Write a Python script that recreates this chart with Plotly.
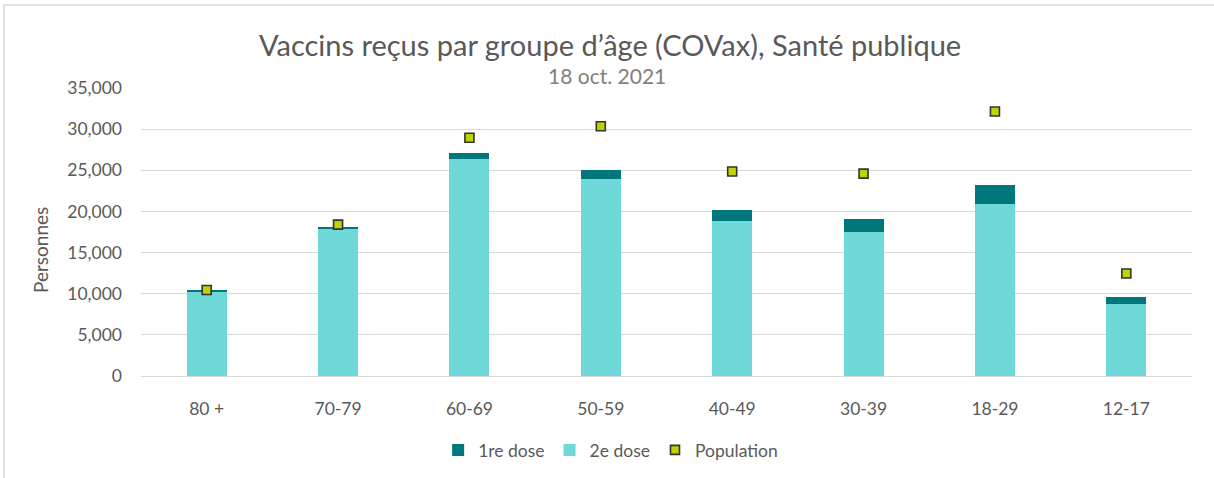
import plotly.graph_objects as go

categories = ["80 +", "70-79", "60-69", "50-59", "40-49", "30-39", "18-29", "12-17"]
dose2 = [10200, 17850, 26400, 23950, 18850, 17500, 20900, 8750]
dose1 = [250, 300, 700, 1050, 1350, 1550, 2300, 900]
population = [10450, 18400, 28950, 30350, 24850, 24600, 32150, 12450]

FONT = "Lato, 'Open Sans', sans-serif"
GREY = "#595959"

W, H = 1214, 478
L, R, T, B = 141, 22, 88, 102
pw, ph = W - L - R, H - T - B

def px(x):
    return (x - L) / pw

def py(y):
    return (H - B - y) / ph

fig = go.Figure()
fig.add_trace(go.Bar(x=categories, y=dose2, name="2e dose", marker_color="#6FD9DA",
                     marker_line_width=0, width=0.305, legendrank=2))
fig.add_trace(go.Bar(x=categories, y=dose1, name="1re dose", marker_color="#00777A",
                     marker_line_width=0, width=0.305, legendrank=1))
fig.add_trace(go.Scatter(x=categories, y=population, name="Population", mode="markers",
                         marker=dict(symbol="square", size=9, color="#BFD300",
                                     line=dict(color="#333333", width=1.6)),
                         legendrank=3))

fig.update_layout(
    width=W, height=H,
    margin=dict(l=L, r=R, t=T, b=B),
    barmode="stack",
    plot_bgcolor="white", paper_bgcolor="white",
    font=dict(family=FONT, color=GREY, size=17),
    showlegend=True,
    legend=dict(orientation="h", xref="container", x=0.503, xanchor="center",
                yref="container", y=1 - 450 / H, yanchor="middle", traceorder="normal",
                font=dict(size=17.5, color=GREY), itemwidth=30, tracegroupgap=0),
    annotations=[
        dict(text="Vaccins reçus par groupe d’âge (COVax), Santé publique", x=px(610), y=py(44),
             xref="paper", yref="paper", showarrow=False, xanchor="center", yanchor="middle",
             font=dict(size=29, color=GREY, family=FONT)),
        dict(text="18 oct. 2021", x=px(607), y=py(75),
             xref="paper", yref="paper", showarrow=False, xanchor="center", yanchor="middle",
             font=dict(size=21, color="#7f7f7f", family=FONT)),
        dict(text="Personnes", x=px(40), y=py(250), textangle=-90,
             xref="paper", yref="paper", showarrow=False, xanchor="center", yanchor="middle",
             font=dict(size=19, color=GREY, family=FONT)),
    ],
    shapes=[
        dict(type="rect", xref="paper", yref="paper", x0=px(4), y0=py(5), x1=px(1230), y1=py(495),
             line=dict(color="#d9d9d9", width=1.5), fillcolor="rgba(0,0,0,0)", layer="below"),
    ],
)
fig.update_yaxes(range=[0, 35000], dtick=5000, tickformat=",", gridcolor="#d9d9d9", gridwidth=1,
                 zeroline=False, showline=False, ticklabelstandoff=18,
                 tickfont=dict(size=17.5, color=GREY))
fig.update_xaxes(showline=True, linecolor="#d9d9d9", linewidth=1, showgrid=False,
                 ticks="", ticklabelstandoff=17, tickfont=dict(size=17.5, color=GREY))

fig.write_html("out.html", config={"displayModeBar": False},
               post_script="document.body.style.margin='0';document.body.style.overflow='hidden';")
